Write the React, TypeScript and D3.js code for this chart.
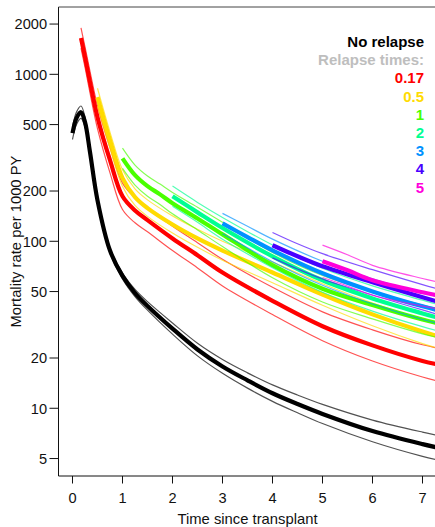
import React from "react";
import { scaleLinear, scaleLog, line, curveCatmullRom } from "d3";

// time since transplant (years) and mortality per 1000 PY
const noRelapseTime = [0, 0.08, 0.17, 0.25, 0.35, 0.5, 0.75, 1, 1.25, 1.5, 2, 2.5, 3, 3.5, 4, 4.5, 5, 6, 7, 7.5];
const noRelapseRate = [444, 546, 593, 517, 342, 176, 88, 62, 49, 41, 30, 22.5, 17.8, 14.7, 12.3, 10.6, 9.25, 7.3, 6.1, 5.65];
const noRelapseUpper = [484, 595, 646, 553, 356, 181, 91, 64.5, 51.5, 43.5, 32.4, 24.5, 19.6, 16.3, 13.8, 12, 10.55, 8.5, 7.2, 6.7];
const noRelapseLower = [407, 501, 544, 483, 329, 171, 85.4, 59.6, 46.7, 38.7, 27.8, 20.6, 16.2, 13.2, 11.0, 9.4, 8.1, 6.3, 5.15, 4.75];

const r017Time = [0.17, 0.25, 0.35, 0.5, 0.75, 1, 1.25, 1.5, 2, 2.5, 3, 4, 5, 6, 7, 7.5];
const r017Rate = [1650, 1268, 898, 554, 306, 186, 153, 134, 104, 82.5, 65, 44, 31, 23.8, 19.2, 17.8];
const r017Upper = [1898, 1458, 1042, 648, 364, 223, 182, 158, 123, 98, 78, 53, 37.8, 29.5, 24, 22.4];
const r017Lower = [1435, 1103, 774, 473, 257, 155, 129, 114, 88, 69.3, 54, 36.4, 25.4, 19.2, 15.4, 14.1];

const r05Time = [0.5, 0.75, 1, 1.25, 1.5, 2, 2.5, 3, 4, 5, 6, 7, 7.5];
const r05Rate = [730, 403, 239, 184, 158, 126, 104, 88, 65, 48, 36.5, 28.8, 26];
const r05Upper = [825, 451, 268, 206, 177, 142, 118, 100, 75, 55.7, 42.7, 34, 30.7];
const r05Lower = [646, 360, 213, 164, 141, 112, 92, 77, 56.5, 41.4, 31.2, 24.4, 22];

const r1Time = [1, 1.25, 1.5, 1.75, 2, 2.5, 3, 4, 5, 6, 7, 7.5];
const r1Rate = [314, 249, 214, 191, 169, 137, 110, 72, 52, 41.5, 34, 31.4];
const r1Upper = [361, 286, 246, 220, 196, 160, 130, 85.7, 62.4, 50.2, 41.5, 38.3];
const r1Lower = [273, 217, 186, 166, 146, 117, 93, 60.5, 43.3, 34.3, 27.9, 25.7];

const r2Time = [2, 2.5, 3, 4, 5, 6, 7, 7.5];
const r2Rate = [186, 149, 120, 81.3, 58.4, 45.5, 37, 33.6];
const r2Upper = [214, 171, 139, 95, 68.9, 54.1, 44.4, 40.3];
const r2Lower = [162, 130, 103, 69.5, 49.5, 38.2, 30.8, 28];

const r3Time = [3, 3.5, 4, 5, 6, 7, 7.5];
const r3Rate = [128, 106, 88.3, 64.3, 50.1, 40.8, 37.5];
const r3Upper = [147, 123, 103, 75.9, 59.6, 49, 45];
const r3Lower = [111, 91.4, 75.5, 54.5, 42.1, 34, 31.3];

const r4Time = [4, 4.5, 5, 6, 7, 7.5];
const r4Rate = [94.7, 81.3, 70.8, 56.8, 46.2, 41.9];
const r4Upper = [113, 96.7, 84.3, 67.6, 55, 49.9];
const r4Lower = [79.6, 68.3, 59.5, 47.7, 38.8, 35.2];

const r5Time = [5, 5.5, 6, 7, 7.5];
const r5Rate = [75.9, 67, 58.4, 49.5, 46.2];
const r5Upper = [94.9, 83.1, 71.8, 59.9, 55.4];
const r5Lower = [60.7, 54, 47.5, 40.9, 38.5];

const relapseLabels = ["0.17", "0.5", "1", "2", "3", "4", "5"];
const relapseColors = ["#FF0000", "#FFDB00", "#49FF00", "#00FF92", "#0092FF", "#4900FF", "#FF00DB"];

const xTicks = [0, 1, 2, 3, 4, 5, 6, 7];
const yTicks = [5, 10, 20, 50, 100, 200, 500, 1000, 2000];

const FONT = '"Liberation Sans", Arial, Helvetica, sans-serif';
const W = 435;
const H = 527;

const series = [
  { color: "#000000", thin: "#333333", t: noRelapseTime, mid: noRelapseRate, lo: noRelapseLower, hi: noRelapseUpper },
  ...[
    [r017Time, r017Rate, r017Lower, r017Upper],
    [r05Time, r05Rate, r05Lower, r05Upper],
    [r1Time, r1Rate, r1Lower, r1Upper],
    [r2Time, r2Rate, r2Lower, r2Upper],
    [r3Time, r3Rate, r3Lower, r3Upper],
    [r4Time, r4Rate, r4Lower, r4Upper],
    [r5Time, r5Rate, r5Lower, r5Upper],
  ].map(([t, mid, lo, hi], i) => ({
    color: relapseColors[i],
    thin: relapseColors[i],
    t,
    mid,
    lo,
    hi,
  })),
];

const App = () => {
  // xlim 0..7 and ylim 5..2000, each padded by 4% like base graphics
  const x = scaleLinear().domain([-0.28, 7.28]).range([58.5, 436.5]);
  const y = scaleLog().domain([3.93, 2530]).range([476, 7]);
  const [left, right] = x.range();
  const bottom = y.range()[0];
  const top = y.range()[1];

  const path = (t: number[], v: number[]) =>
    line<number>()
      .x((_, i) => x(t[i]))
      .y((d) => y(d))
      .curve(curveCatmullRom.alpha(0.5))(v) || "";

  return (
    <svg width={W} height={H} style={{ position: "absolute", left: 0, top: 0, background: "#fff" }} fontFamily={FONT}>
      <defs>
        <clipPath id="plot">
          <rect x={left} y={top} width={right - left} height={bottom - top} />
        </clipPath>
      </defs>
      <g clipPath="url(#plot)">
        {series.map((s, i) => (
          <g key={i} fill="none" strokeLinecap="butt">
            <path d={path(s.t, s.hi)} stroke={s.thin} strokeWidth={1.2} strokeOpacity={i === 0 ? 0.85 : 0.68} />
            <path d={path(s.t, s.lo)} stroke={s.thin} strokeWidth={1.2} strokeOpacity={i === 0 ? 0.85 : 0.68} />
            <path d={path(s.t, s.mid)} stroke={s.color} strokeWidth={4.2} />
          </g>
        ))}
      </g>

      {/* frame: left, top, bottom */}
      <line x1={left} x2={left} y1={top} y2={bottom} stroke="#111" />
      <line x1={left} x2={right} y1={top} y2={top} stroke="#444" />
      <line x1={left} x2={right} y1={bottom} y2={bottom} stroke="#111" />

      {yTicks.map((v) => (
        <g key={v} transform={`translate(0,${y(v)})`}>
          <line x1={left - 9} x2={left} stroke="#111" />
          <text x={left - 11.5} dy="0.36em" textAnchor="end" fontSize={14.6} fill="#111">
            {v}
          </text>
        </g>
      ))}
      {xTicks.map((v) => (
        <g key={v} transform={`translate(${x(v)},0)`}>
          <line y1={bottom} y2={bottom + 7.5} stroke="#111" />
          <text y={502.7} textAnchor="middle" fontSize={14.6} fill="#111">
            {v}
          </text>
        </g>
      ))}
      <text x={(left + right) / 2} y={523.5} textAnchor="middle" fontSize={14.8} fill="#111">
        Time since transplant
      </text>
      <text transform={`translate(21,${(top + bottom) / 2}) rotate(-90)`} textAnchor="middle" fontSize={14.8} fill="#111">
        Mortality rate per 1000 PY
      </text>

      <g fontWeight="bold" fontSize={15} textAnchor="end">
        <text x={424} y={46.7} fill="#000">No relapse</text>
        <text x={424} y={65} fill="#BEBEBE">Relapse times:</text>
        {relapseLabels.map((l, i) => (
          <text key={l} x={424} y={83.3 + i * 18.2} fill={relapseColors[i]}>
            {l}
          </text>
        ))}
      </g>
    </svg>
  );
};

export default App;
